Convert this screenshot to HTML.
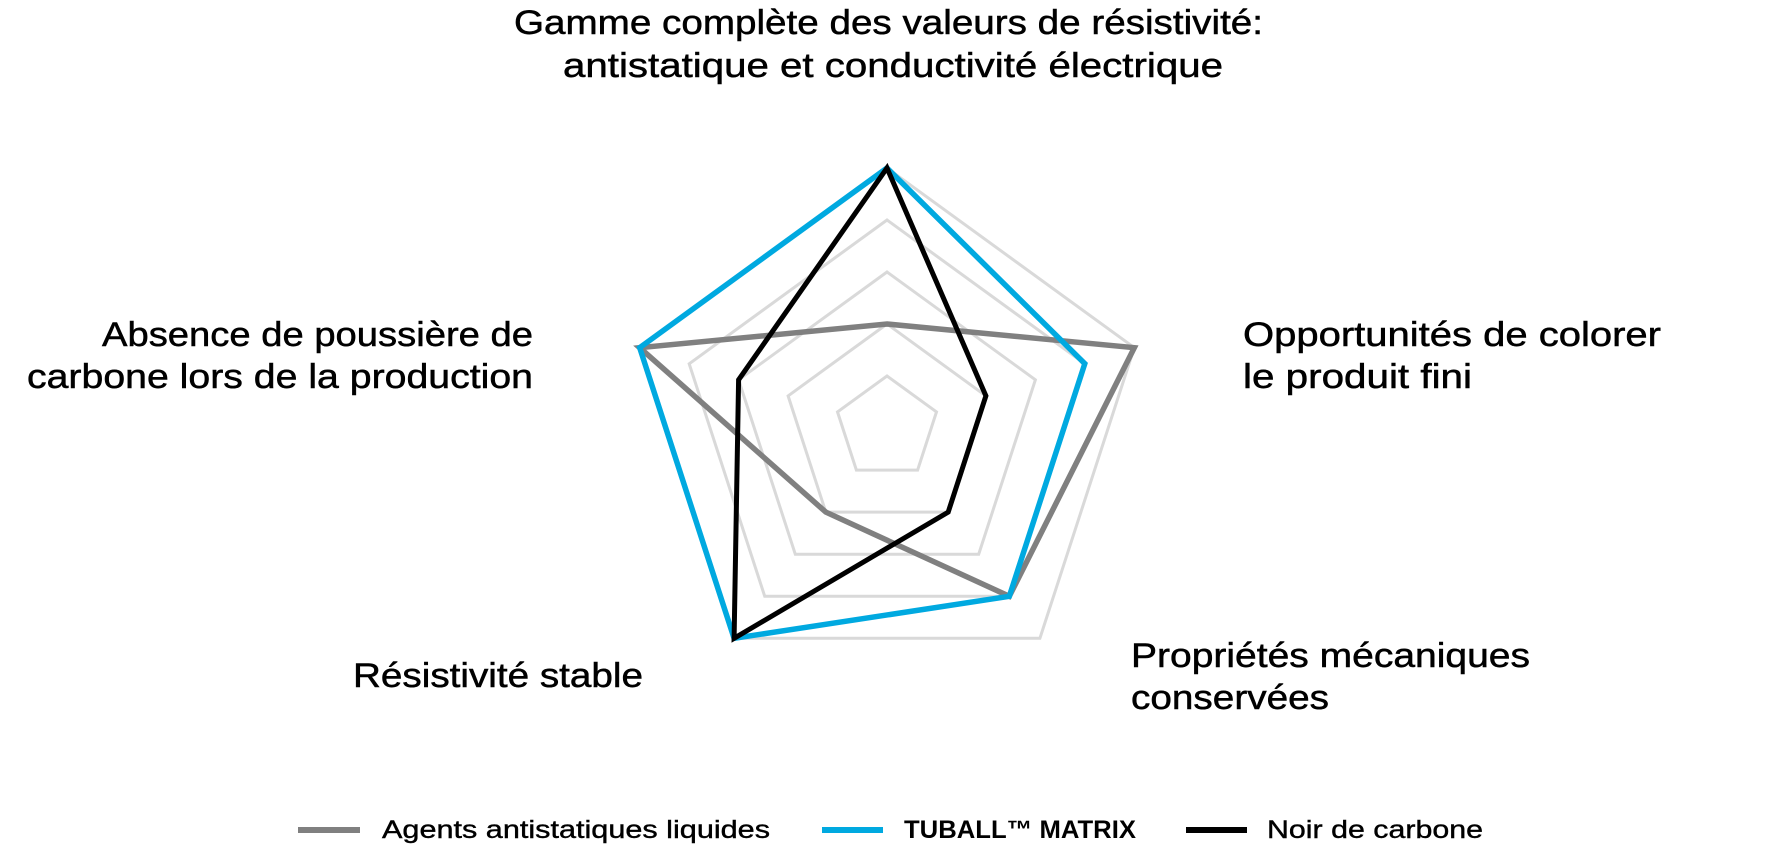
<!DOCTYPE html>
<html><head><meta charset="utf-8"><style>
html,body{margin:0;padding:0;background:#fff;}
svg{display:block;font-family:"Liberation Sans",sans-serif;}
</style></head><body>
<svg width="1776" height="846" viewBox="0 0 1776 846" xmlns="http://www.w3.org/2000/svg">
<g transform="translate(887,428)" fill="none" stroke-linejoin="miter">
 <g stroke="#d9d9d9" stroke-width="3">
  <polygon points="0,-260 247.3,-80.3 152.9,210.3 -152.9,210.3 -247.3,-80.3"/>
  <polygon points="0,-208 197.8,-64.2 122.3,168.2 -122.3,168.2 -197.8,-64.2"/>
  <polygon points="0,-156 148.4,-48.2 91.7,126.2 -91.7,126.2 -148.4,-48.2"/>
  <polygon points="0,-104 98.9,-32.1 61.2,84.1 -61.2,84.1 -98.9,-32.1"/>
  <polygon points="0,-52 49.5,-16.1 30.6,42.1 -30.6,42.1 -49.5,-16.1"/>
 </g>
 <polygon stroke="#808080" stroke-width="5.5" points="0,-104 247.3,-80.3 122.3,168.3 -61.2,84.1 -247.3,-80.3"/>
 <polygon stroke="#00a9e0" stroke-width="5.5" points="0,-260 197.8,-64.3 122.3,168.3 -152.9,210.3 -247.3,-80.3"/>
 <polygon stroke="#000" stroke-width="5" points="0,-260 98.9,-32.1 61.2,84.1 -152.9,210.3 -148.4,-48.2"/>
</g>
<g font-size="34" fill="#000" stroke="#000" stroke-width="0.5">
 <text x="514" y="34" textLength="749" lengthAdjust="spacingAndGlyphs">Gamme complète des valeurs de résistivité:</text>
 <text x="563" y="77" textLength="660" lengthAdjust="spacingAndGlyphs">antistatique et conductivité électrique</text>
 <text x="102" y="346" textLength="431" lengthAdjust="spacingAndGlyphs">Absence de poussière de</text>
 <text x="27" y="388" textLength="506" lengthAdjust="spacingAndGlyphs">carbone lors de la production</text>
 <text x="1243" y="346" textLength="418" lengthAdjust="spacingAndGlyphs">Opportunités de colorer</text>
 <text x="1243" y="388" textLength="229" lengthAdjust="spacingAndGlyphs">le produit fini</text>
 <text x="1131" y="667" textLength="399" lengthAdjust="spacingAndGlyphs">Propriétés mécaniques</text>
 <text x="1131" y="709" textLength="198" lengthAdjust="spacingAndGlyphs">conservées</text>
 <text x="353" y="687" textLength="290" lengthAdjust="spacingAndGlyphs">Résistivité stable</text>
</g>
<g stroke-width="6">
 <line x1="298" y1="830" x2="360" y2="830" stroke="#808080"/>
 <line x1="822" y1="830" x2="883" y2="830" stroke="#00a9e0"/>
 <line x1="1186" y1="830" x2="1247" y2="830" stroke="#000"/>
</g>
<g font-size="25" fill="#000" stroke="#000" stroke-width="0.4">
 <text x="382" y="838" textLength="388" lengthAdjust="spacingAndGlyphs">Agents antistatiques liquides</text>
 <text x="904" y="838" font-weight="bold" stroke-width="0" textLength="232" lengthAdjust="spacingAndGlyphs">TUBALL™ MATRIX</text>
 <text x="1267" y="838" textLength="216" lengthAdjust="spacingAndGlyphs">Noir de carbone</text>
</g>
</svg>
</body></html>
